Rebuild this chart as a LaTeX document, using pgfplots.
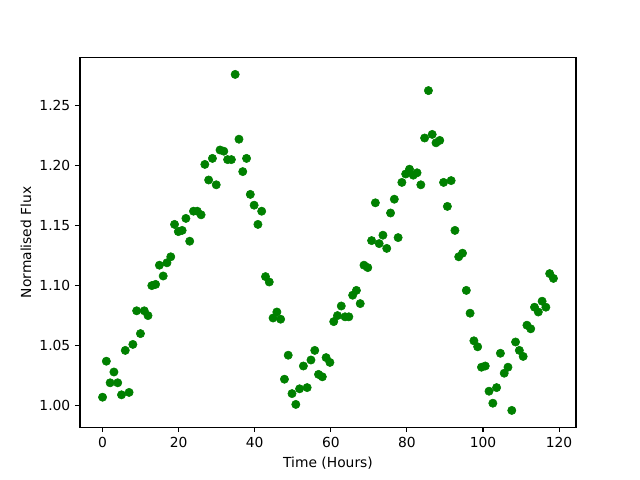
\documentclass[border=0pt]{standalone}
\usepackage{pgfplots}
\pgfplotsset{compat=1.18}
\usepackage{fontspec}
\setmainfont{DejaVu Sans}
\definecolor{mplgreen}{HTML}{008000}
\begin{document}
\begin{tikzpicture}
\path[use as bounding box] (-0.8in,-0.528in) rectangle (5.6in,4.272in);
\begin{axis}[
  at={(0,0)}, anchor=south west,
  scale only axis,
  width=4.96in, height=3.696in,
  xmin=-5.93, xmax=124.45,
  ymin=0.982, ymax=1.290,
  xtick={0,20,40,60,80,100,120},
  ytick={1.00,1.05,1.10,1.15,1.20,1.25},
  yticklabel style={/pgf/number format/.cd, fixed, fixed zerofill, precision=2},
  /pgf/number format/assume math mode=true,
  tick label style={font=\fontsize{10}{12}\selectfont},
  label style={font=\fontsize{10}{12}\selectfont},
  tick align=outside,
  tick pos=left,
  major tick length=3.5pt,
  every tick/.style={black, line width=0.8pt},
  axis line style={line width=0.8pt},
  xlabel={Time (Hours)},
  ylabel={Normalised Flux},
  xlabel style={yshift=0pt},
  ylabel style={yshift=-1pt},
]
\addplot[only marks, mark=*, mark size=3pt, mplgreen, mark options={draw=mplgreen, fill=mplgreen}] coordinates {
(0,1.007) (0.996,1.037) (1.992,1.019) (2.988,1.028) (3.984,1.019)
(4.98,1.009) (5.976,1.046) (6.972,1.011) (7.968,1.051) (8.964,1.079)
(9.96,1.060) (10.96,1.079) (11.95,1.075) (12.95,1.100) (13.94,1.101)
(14.94,1.117) (15.94,1.108) (16.93,1.119) (17.93,1.124) (18.92,1.151)
(19.92,1.145) (20.92,1.146) (21.91,1.156) (22.91,1.137) (23.90,1.162)
(24.9,1.162) (25.90,1.159) (26.89,1.201) (27.89,1.188) (28.88,1.206)
(29.88,1.184) (30.88,1.213) (31.87,1.212) (32.87,1.205) (33.86,1.205)
(34.86,1.276) (35.86,1.222) (36.85,1.195) (37.85,1.206) (38.84,1.176)
(39.84,1.167) (40.84,1.151) (41.83,1.162) (42.83,1.1075) (43.82,1.103)
(44.82,1.073) (45.82,1.078) (46.81,1.072) (47.81,1.022) (48.80,1.042)
(49.8,1.010) (50.80,1.001) (51.79,1.014) (52.79,1.033) (53.78,1.015)
(54.78,1.038) (55.78,1.046) (56.77,1.026) (57.77,1.024) (58.76,1.040)
(59.76,1.036) (60.76,1.070) (61.75,1.075) (62.75,1.083) (63.74,1.074)
(64.74,1.074) (65.74,1.092) (66.73,1.096) (67.73,1.085) (68.72,1.117)
(69.72,1.115) (70.72,1.1375) (71.71,1.169) (72.71,1.135) (73.70,1.142)
(74.7,1.131) (75.70,1.1605) (76.69,1.172) (77.69,1.140) (78.68,1.186)
(79.68,1.193) (80.68,1.197) (81.67,1.192) (82.67,1.194) (83.66,1.184)
(84.66,1.223) (85.66,1.2625) (86.65,1.226) (87.65,1.219) (88.64,1.221)
(89.64,1.186) (90.64,1.166) (91.63,1.1875) (92.63,1.146) (93.62,1.124)
(94.62,1.127) (95.62,1.096) (96.61,1.077) (97.61,1.054) (98.60,1.049)
(99.6,1.032) (100.60,1.033) (101.59,1.012) (102.59,1.002) (103.58,1.015)
(104.58,1.0436) (105.58,1.027) (106.57,1.032) (107.57,0.996) (108.56,1.053)
(109.56,1.046) (110.56,1.041) (111.55,1.067) (112.55,1.064) (113.54,1.082)
(114.54,1.078) (115.54,1.087) (116.53,1.082) (117.53,1.110) (118.52,1.106)
};
\end{axis}
\end{tikzpicture}
\end{document}
